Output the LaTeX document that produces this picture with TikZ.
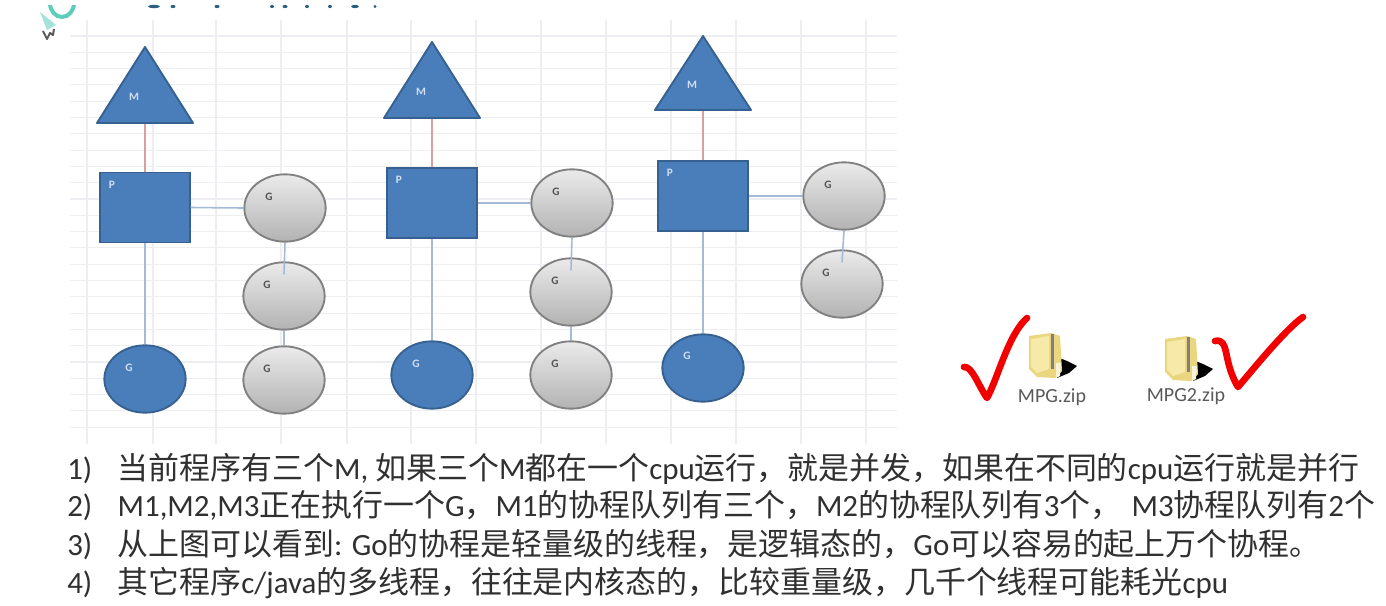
\documentclass[tikz,border=0pt]{standalone}
\usepackage{fontspec}
\setmainfont{Carlito}
\newfontfamily\cjk{Noto Sans CJK SC}
\newcommand{\zh}[1]{{\cjk #1}}
\usetikzlibrary{shapes.geometric,calc}
\definecolor{pblue}{HTML}{4A7EBB}
\definecolor{pedge}{HTML}{35608F}
\definecolor{gedge}{HTML}{808080}
\definecolor{linkblue}{HTML}{A4BAD6}
\definecolor{linkred}{HTML}{D9A0A0}
\definecolor{gridc}{HTML}{ECEEF1}
\definecolor{txt}{HTML}{303030}
\definecolor{fold}{HTML}{EBD680}
\definecolor{foldl}{HTML}{F7EAA8}
\definecolor{tealc}{HTML}{5CCDBB}
\tikzset{
  x=0.75pt,y=-0.75pt,
  tri/.style={fill=pblue,draw=pedge,line width=1.4pt,line join=round},
  proc/.style={rectangle,fill=pblue,draw=pedge,line width=1.4pt,minimum width=67pt,minimum height=52.5pt,inner sep=0},
  bluegor/.style={ellipse,fill=pblue,draw=pedge,line width=1.4pt,minimum width=61pt,minimum height=50.5pt,inner sep=0},
  graygor/.style={ellipse,top color=black!8,bottom color=black!30,draw=gedge,line width=1.4pt,minimum width=61pt,minimum height=50.5pt,inner sep=0},
  lblw/.style={text=white!75!pblue,font=\fontsize{8.5}{9}\selectfont\bfseries,inner sep=0},
  lblg/.style={text=black!68,font=\fontsize{8.5}{9}\selectfont\bfseries,inner sep=0},
  toM/.style={linkred,line width=1pt},
  toG/.style={linkblue,line width=1.2pt},
  gridl/.style={gridc,line width=0.8pt},
  listl/.style={anchor=base west,text=txt,inner sep=0,font=\fontsize{23.2}{26}\selectfont},
  tick/.style={red!95!black,line width=5pt,line cap=round,line join=round},
  zipname/.style={text=black!65,inner sep=0,font=\fontsize{15}{17}\selectfont},
}
\newcommand{\folder}[2]{%
  \begin{scope}[shift={(#1,#2)}]
    \fill[black] (28,24) -- (38,28) -- (48,33) -- (40,40) -- (28,45) -- cycle;
    \fill[fold] (0,3) -- (22,0) -- (31,3) -- (33,38) -- (26,45) -- (8,44) -- (0,36) -- cycle;
    \fill[foldl] (2,6) -- (20,3) -- (20,36) -- (8,40) -- (2,34) -- cycle;
    \fill[black!50] (21.5,1) rectangle (25,36);
    \fill[white!70!fold] (27,30) -- (32,30) -- (31,43) -- (27,45) -- cycle;
  \end{scope}}
\begin{document}
\begin{tikzpicture}
\useasboundingbox (0,0) rectangle (1386,606);
\fill[white] (0,0) rectangle (1386,606);
% sheet grid
\foreach \yy in {36,52.3,...,440} \draw[gridl] (70,\yy) -- (897,\yy);
\foreach \xx in {87,153,216,281,347,411,476,541,606,671,736,801,866} \draw[gridl] (\xx,20) -- (\xx,444);
% clipped pieces at the top edge
\begin{scope}
  \clip (30,6) rectangle (400,60);
  \draw[tealc,line width=3pt] (50,3) arc[start angle=180,end angle=360,x radius=12,y radius=-14];
\end{scope}
\fill[white!45!tealc] (40,12) -- (56,25) -- (47,30) -- cycle;
\draw[black!65,line width=1.5pt,line join=round] (43,31) -- (47,39) -- (50,33) -- (53,35) -- (54,29);
\foreach \xx/\ww in {154/6,173/2.5,217/2.5,272/2,285/2.5,307/2,330/2,355/4,375/1.5}
  \fill[pblue!70!black!85!teal] (\xx,6.5) ellipse[x radius=\ww,y radius=1.6];
% nodes
\node[proc] (p1) at (145,207.5) {};
\node[proc] (p2) at (432,203) {};
\node[proc] (p3) at (703,196) {};
\node[bluegor] (b1) at (145,379) {};
\node[bluegor] (b2) at (432,375) {};
\node[bluegor] (b3) at (703,368) {};
\node[graygor] (g11) at (285,208) {};
\node[graygor] (g12) at (284,296) {};
\node[graygor] (g13) at (284,380) {};
\node[graygor] (g21) at (572,203) {};
\node[graygor] (g22) at (571,292) {};
\node[graygor] (g23) at (571,375) {};
\node[graygor] (g31) at (844,196) {};
\node[graygor] (g32) at (842,284) {};
\coordinate (m1) at (145,123);
\coordinate (m2) at (432,118);
\coordinate (m3) at (703,110);
\coordinate (e12) at ($(g12.north)+(0,13)$);
\coordinate (e22) at ($(g22.north)+(0,13)$);
\coordinate (e32) at ($(g32.north)+(0,13)$);
% connectors
\draw[toM] (m1) -- (p1.north);
\draw[toM] (m2) -- (p2.north);
\draw[toM] (m3) -- (p3.north);
\draw[toG] (p1.south) -- (b1.north);
\draw[toG] (p2.south) -- (b2.north);
\draw[toG] (p3.south) -- (b3.north);
\draw[toG] (p1.east) -- (g11.west);
\draw[toG] (p2.east) -- (g21.west);
\draw[toG] (p3.east) -- (g31.west);
\draw[toG] (g11.south) -- (e12);
\draw[toG] (g12.south) -- (g13.north);
\draw[toG] (g21.south) -- (e22);
\draw[toG] (g22.south) -- (g23.north);
\draw[toG] (g31.south) -- (e32);
% triangles
\draw[tri] (145,47) -- (193,123) -- (97,123) -- cycle;
\draw[tri] (432,42) -- (480,118) -- (384,118) -- cycle;
\draw[tri] (703,36) -- (751,110) -- (655,110) -- cycle;
% labels
\node[lblw] (lm1) at (134,97) {M};
\node[lblw] (lm2) at (421,92) {M};
\node[lblw] (lm3) at (692,85) {M};
\node[lblw] (lp1) at (112,185) {P};
\node[lblw] (lp2) at (399,180) {P};
\node[lblw] (lp3) at (670,173) {P};
\node[lblw] (lb1) at (129,368) {G};
\node[lblw] (lb2) at (416,364) {G};
\node[lblw] (lb3) at (687,356) {G};
\node[lblg] (l11) at (269,197) {G};
\node[lblg] (l12) at (267,285) {G};
\node[lblg] (l13) at (267,369) {G};
\node[lblg] (l21) at (556,192) {G};
\node[lblg] (l22) at (555,281) {G};
\node[lblg] (l23) at (555,364) {G};
\node[lblg] (l31) at (828,185) {G};
\node[lblg] (l32) at (826,273) {G};
% zip files
\folder{1029}{333}
\folder{1165}{336}
\node[zipname] (z1) at (1052,397) {MPG.zip};
\node[zipname] (z2) at (1186,396) {MPG2.zip};
\draw[tick] (964,367) .. controls (972,366) and (978,385) .. (987,398) .. controls (998,378) and (1008,335) .. (1027,318);
\draw[tick] (1215,341) .. controls (1230,338) and (1222,360) .. (1238,387) .. controls (1255,367) and (1285,330) .. (1303,317);
% list
\node[listl] (t1) at (67,479) {1)\hspace{19pt}\zh{当前程序有三个}M, \zh{如果三个}M\zh{都在一个}cpu\zh{运行，就是并发，如果在不同的}cpu\zh{运行就是并行}};
\node[listl] (t2) at (67,516) {2)\hspace{19pt}M1,M2,M3\zh{正在执行一个}G\zh{，}M1\zh{的协程队列有三个，}M2\zh{的协程队列有}3\zh{个，}\,\,M3\zh{协程队列有}2\zh{个}};
\node[listl] (t3) at (67,555) {3)\hspace{19pt}\zh{从上图可以看到}: Go\zh{的协程是轻量级的线程，是逻辑态的，}Go\zh{可以容易的起上万个协程。}};
\node[listl] (t4) at (67,593) {4)\hspace{19pt}\zh{其它程序}c/java\zh{的多线程，往往是内核态的，比较重量级，几千个线程可能耗光}cpu};
\end{tikzpicture}
\end{document}
